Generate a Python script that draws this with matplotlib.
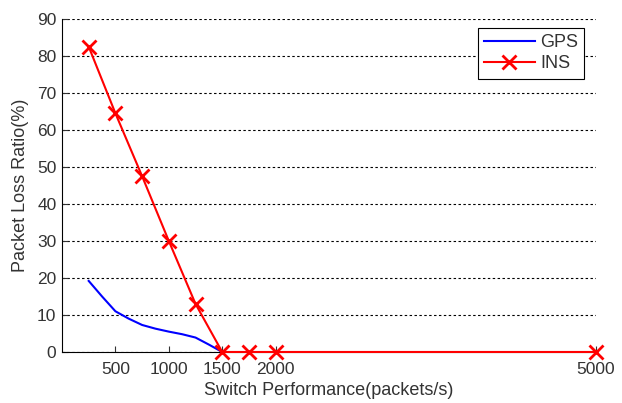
import matplotlib
matplotlib.use("Agg")
import matplotlib.pyplot as plt

plt.rcParams['font.family'] = ['Liberation Sans', 'DejaVu Sans']

gps_x = [250, 375, 500, 625, 750, 875, 1000, 1125, 1250, 1375, 1500]
gps_y = [19.2, 15.0, 11.0, 9.0, 7.3, 6.3, 5.5, 4.8, 3.9, 2.0, 0.0]

ins_x = [250, 500, 750, 1000, 1250, 1500, 1750, 2000, 5000]
ins_y = [82.5, 64.5, 47.5, 30.0, 13.0, 0.0, 0.0, 0.0, 0.0]

xticks = [500, 1000, 1500, 2000, 5000]
yticks = [0, 10, 20, 30, 40, 50, 60, 70, 80, 90]

fig = plt.figure(figsize=(6.22, 4.03), dpi=100)
ax = fig.add_axes([0.0997, 0.1266, 0.8585, 0.8264])

ax.plot(gps_x, gps_y, color='#0000ff', lw=1.5, label='GPS')
ax.plot(ins_x, ins_y, color='#ff0000', lw=1.5, marker='x', ms=10, mew=2, label='INS',
        clip_on=False, zorder=3)

ax.set_xlim(0, 5000)
ax.set_ylim(0, 90)
ax.set_xticks(xticks)
ax.set_yticks(yticks)
ax.tick_params(direction='in', labelsize=12.5, length=4, colors='#333333', pad=4)
ax.tick_params(axis='x', pad=7)
for s in ['top', 'right']:
    ax.spines[s].set_visible(False)
for s in ['left', 'bottom']:
    ax.spines[s].set_color('black')
ax.yaxis.grid(True, linestyle=(0, (2.2, 2.2)), color='black', lw=0.8)
ax.set_axisbelow(True)

ax.set_xlabel('Switch Performance(packets/s)', fontsize=13, labelpad=4, color='#333333')
ax.set_ylabel('Packet Loss Ratio(%)', fontsize=13, labelpad=6, color='#333333')

leg = ax.legend(loc='upper right', bbox_to_anchor=(0.985, 0.985), fontsize=13,
                fancybox=False, edgecolor='black', framealpha=1,
                handlelength=2.8, borderpad=0.35, labelspacing=0.25,
                handletextpad=0.3, borderaxespad=0.2)
leg.get_frame().set_linewidth(0.8)
for t in leg.get_texts():
    t.set_color('#333333')

fig.savefig('out.png', dpi=100)
